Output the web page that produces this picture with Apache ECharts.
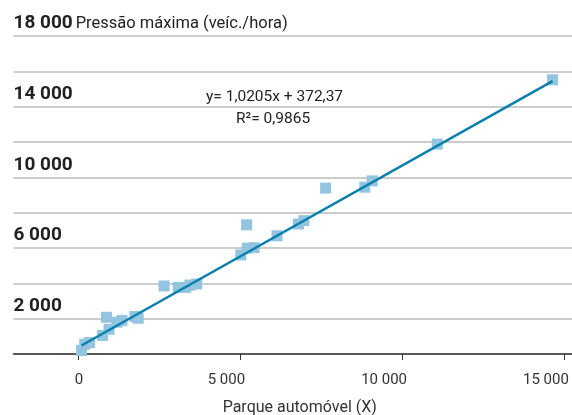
<!DOCTYPE html>
<html>
<head>
<meta charset="utf-8">
<script src="https://cdn.jsdelivr.net/npm/echarts@6/dist/echarts.min.js"></script>
<style>
  html, body { margin: 0; padding: 0; background: #fff; }
  #chart { width: 572px; height: 415px; }
</style>
</head>
<body>
<div id="chart"></div>
<script>
// parque automóvel (X) vs pressão máxima (veíc./hora)
const frota = [100, 200, 350, 750, 950, 870, 1200, 1350, 1750, 1850, 2650, 3090, 3320, 3450, 3660,
  5020, 5220, 5430, 5200, 6140, 6800, 6970, 7640, 8850, 9080, 11090, 14650]
const pressao = [200, 550, 650, 1050, 1400, 2080, 1800, 1900, 2120, 2020, 3850, 3770, 3770, 3900, 3960,
  5610, 5990, 6020, 7310, 6690, 7360, 7550, 9390, 9440, 9800, 11880, 15520]
const trendX = [100, 14650]
const trendY = [480, 15450]
const xTicks = [0, 5000, 10000, 15000]
const yLabelTicks = [2000, 6000, 10000, 14000, 18000]
const yTitle = 'Pressão máxima (veíc./hora)'
const xTitle = 'Parque automóvel (X)'
const equation = ['y= 1,0205x + 372,37', 'R²= 0,9865']

const FONT = "'Roboto', sans-serif"
const fmt = v => String(v).replace(/\B(?=(\d{3})+(?!\d))/g, ' ')

const chart = echarts.init(document.getElementById('chart'))

const option = {
  animation: false,
  textStyle: { fontFamily: FONT },
  grid: { left: 13.5, right: 0, top: 36, bottom: 61, outerBoundsMode: 'none', containLabel: false },
  graphic: [
    {
      type: 'text', left: 206, top: 89,
      style: { text: equation[0], fontSize: 15.5, fill: '#222', fontFamily: FONT }
    },
    {
      type: 'text', left: 236, top: 111,
      style: { text: equation[1], fontSize: 15.5, fill: '#222', fontFamily: FONT }
    }
  ],
  xAxis: {
    type: 'value',
    min: -2000,
    max: 15250,
    axisLine: { lineStyle: { color: '#333', width: 1.5 } },
    axisTick: { show: true, customValues: xTicks, length: 6, lineStyle: { color: '#333' } },
    axisLabel: {
      customValues: xTicks,
      formatter: fmt,
      fontSize: 15,
      color: '#333',
      margin: 19,
      align: 'right',
      padding: [0, -5, 0, 0]
    },
    splitLine: { show: false },
    name: xTitle,
    nameLocation: 'middle',
    nameGap: 46,
    nameTextStyle: { fontSize: 16, color: '#333', padding: [0, 0, 0, 14] }
  },
  yAxis: {
    type: 'value',
    min: 0,
    max: 18000,
    interval: 2000,
    axisLine: { show: false },
    axisTick: { show: false },
    splitLine: { lineStyle: { color: '#cccccc', width: 2 } },
    axisLabel: {
      inside: true,
      margin: 0,
      verticalAlign: 'bottom',
      padding: [0, 0, 3, 0],
      formatter: v => {
        if (!yLabelTicks.includes(v)) return ''
        if (v === 18000) return '{b|' + fmt(v) + '} {n|' + yTitle + '}'
        return '{b|' + fmt(v) + '}'
      },
      rich: {
        b: { fontWeight: 'bold', fontSize: 19, color: '#222', fontFamily: FONT },
        n: { fontSize: 16.5, color: '#222', fontFamily: FONT }
      }
    }
  },
  series: [
    {
      type: 'scatter',
      symbol: 'rect',
      symbolSize: 11,
      itemStyle: { color: '#93c5e0', opacity: 1 },
      data: frota.map((x, i) => [x, pressao[i]]),
      z: 2
    },
    {
      type: 'line',
      symbol: 'none',
      lineStyle: { color: '#0a7fab', width: 2.5 },
      data: trendX.map((x, i) => [x, trendY[i]]),
      z: 3
    }
  ]
}

chart.setOption(option)
window.addEventListener('resize', () => chart.resize())
</script>
</body>
</html>
